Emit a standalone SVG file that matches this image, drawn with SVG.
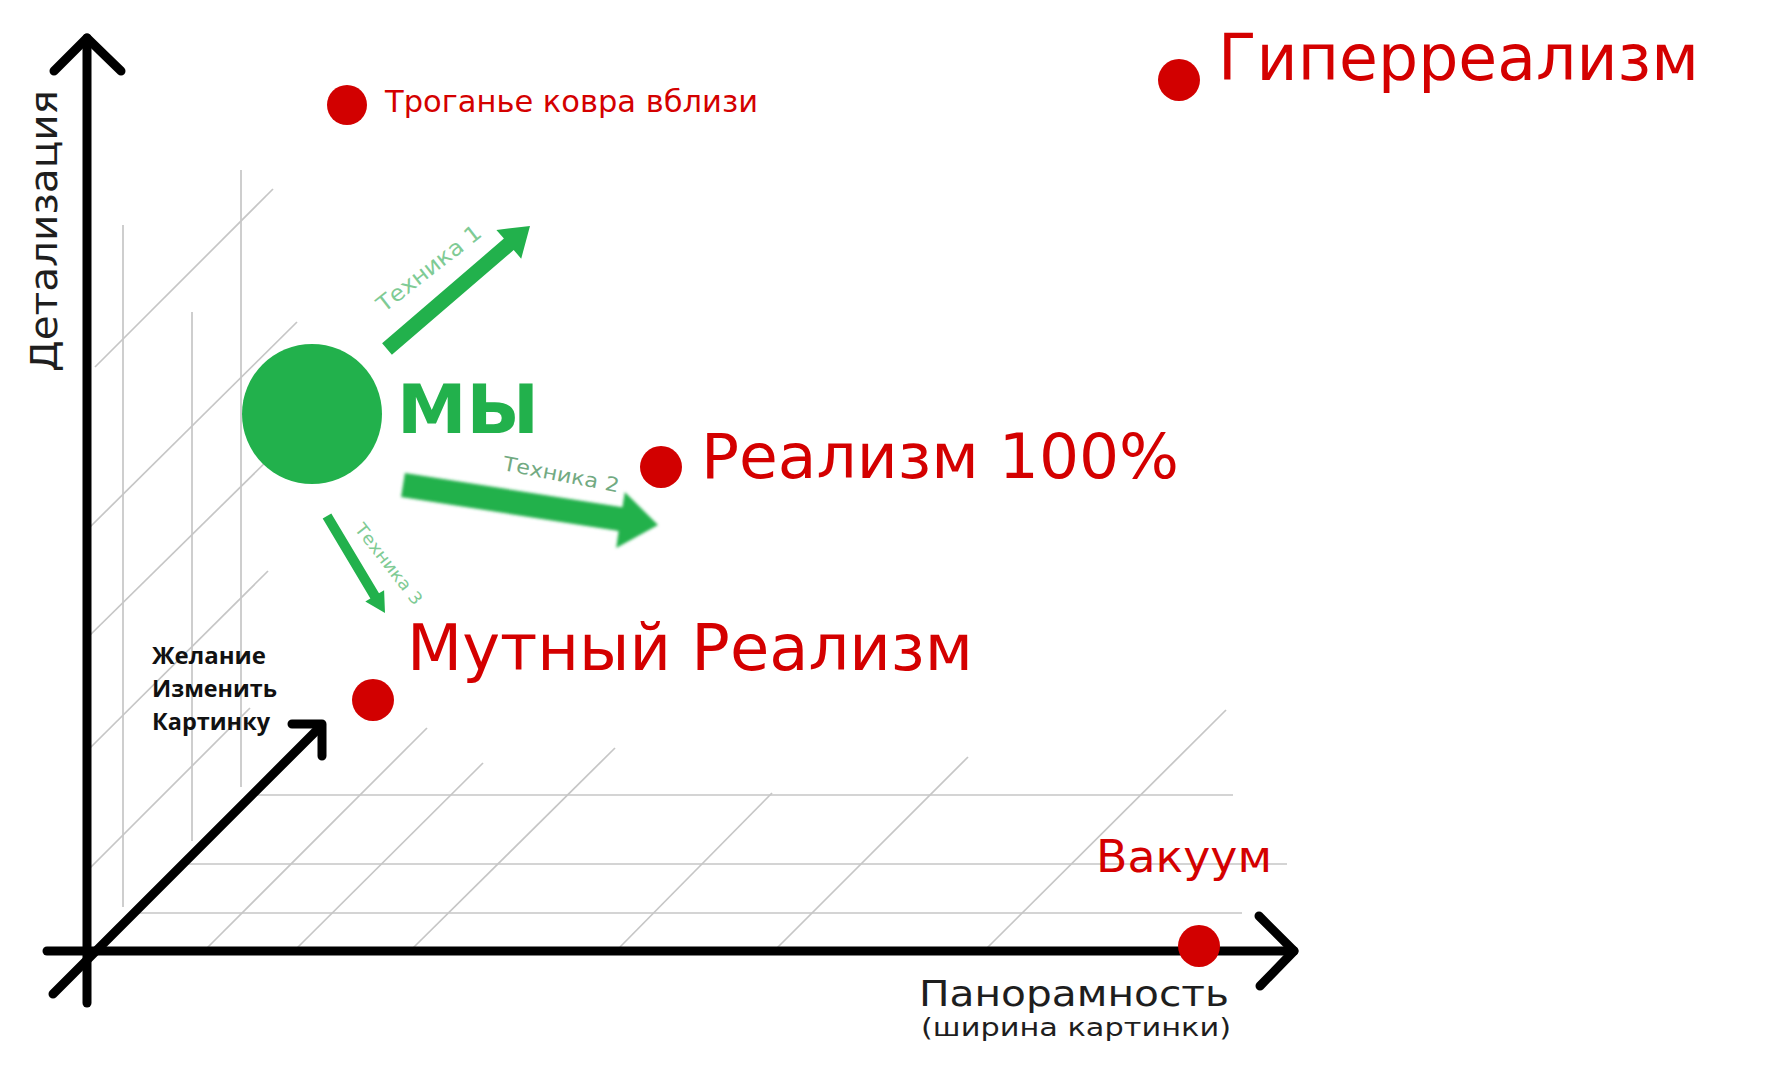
<svg xmlns="http://www.w3.org/2000/svg" width="1769" height="1076" viewBox="0 0 1769 1076">
  <defs>
    <style>
      .grid line { stroke: #c6c6c6; stroke-width: 1.7; fill: none; }
      .axis { stroke: #000; stroke-width: 9; fill: none; stroke-linecap: round; stroke-linejoin: round; }
      .dot { fill: #d20000; }
      .red { fill: #d40000; font-family: "DejaVu Sans", "Liberation Sans", sans-serif; }
      .dark { fill: #1e1e1e; font-family: "DejaVu Sans", "Liberation Sans", sans-serif; }
      .tech { font-family: "DejaVu Sans", "Liberation Sans", sans-serif; }
      .garrow { fill: #22b14c; }
    </style>
    <filter id="blur" x="-10%" y="-30%" width="120%" height="160%">
      <feGaussianBlur stdDeviation="1.6"/>
    </filter>
  </defs>

  <rect x="0" y="0" width="1769" height="1076" fill="#ffffff"/>

  <!-- perspective grid -->
  <g id="grid" class="grid">
    <!-- back wall verticals -->
    <line x1="123" y1="225" x2="123" y2="907"/>
    <line x1="192" y1="312" x2="192" y2="841"/>
    <line x1="241" y1="170" x2="241" y2="787"/>
    <!-- wall diagonals -->
    <line x1="95" y1="367" x2="273" y2="189"/>
    <line x1="90" y1="527" x2="297" y2="322"/>
    <line x1="85" y1="640" x2="276" y2="452"/>
    <line x1="90" y1="748" x2="268" y2="571"/>
    <line x1="85" y1="873" x2="250" y2="708"/>
    <!-- floor horizontals -->
    <line x1="257" y1="795" x2="1233" y2="795"/>
    <line x1="185" y1="864" x2="1287" y2="864"/>
    <line x1="138" y1="913" x2="1242" y2="913"/>
    <!-- floor diagonals -->
    <line x1="207" y1="948" x2="427" y2="728"/>
    <line x1="295" y1="950" x2="483" y2="763"/>
    <line x1="413" y1="948" x2="615" y2="748"/>
    <line x1="620" y1="947" x2="772" y2="793"/>
    <line x1="777" y1="948" x2="968" y2="757"/>
    <line x1="987" y1="948" x2="1226" y2="710"/>
  </g>

  <!-- axes and connectors -->
  <g id="connectors">
    <g id="axis-detail">
      <line class="axis" x1="87" y1="1003" x2="87" y2="38"/>
      <polyline class="axis" points="54,71 87,38 121,71"/>
    </g>
    <g id="axis-panorama">
      <line class="axis" x1="47" y1="951" x2="1294" y2="951"/>
      <polyline class="axis" points="1259,916 1294,951 1260,986"/>
    </g>
    <g id="axis-desire">
      <line class="axis" x1="53" y1="994" x2="321" y2="726"/>
      <polyline class="axis" points="292,724 322,724 322,756"/>
    </g>
    <g id="arrow-tech1">
      <polygon class="garrow" points="391.9,354.7 382.1,343.3 503.9,238.6 496.4,229.9 530,226 521.2,258.7 513.7,250"/>
      <text class="tech" x="384" y="313" font-size="22" fill="#7fcb95" transform="rotate(-38 384 313)" textLength="126" lengthAdjust="spacingAndGlyphs">Техника 1</text>
    </g>
    <g id="arrow-tech2">
      <polygon class="garrow" filter="url(#blur)" points="404.9,473.1 401.1,496.9 618.6,531 616.2,548 658,525 624.8,492 622.4,507.2"/>
      <text class="tech" x="502" y="470" font-size="20" fill="#72aa82" transform="rotate(11 502 470)" textLength="118" lengthAdjust="spacingAndGlyphs">Техника 2</text>
    </g>
    <g id="arrow-tech3">
      <polygon class="garrow" points="331.3,513.4 322.7,518.6 370.4,598.4 365.3,601.4 385,613 384.1,590.2 379,593.2"/>
      <text class="tech" x="354" y="529" font-size="17" fill="#7fcb95" transform="rotate(52 354 529)" textLength="98" lengthAdjust="spacingAndGlyphs">Техника 3</text>
    </g>
  </g>

  <!-- axis labels -->
  <g id="label-detail">
    <text class="dark" x="57" y="372" font-size="38" fill="#333" transform="rotate(-90 57 372)" textLength="282" lengthAdjust="spacingAndGlyphs">Детализация</text>
  </g>
  <g id="label-panorama">
    <text class="dark" x="919" y="1006" font-size="36" textLength="310" lengthAdjust="spacingAndGlyphs">Панорамность</text>
    <text class="dark" x="921" y="1036" font-size="24" textLength="310" lengthAdjust="spacingAndGlyphs">(ширина картинки)</text>
  </g>
  <g id="label-desire">
    <text x="152" y="664" font-family="'Open Sans', 'DejaVu Sans', sans-serif" font-weight="bold" font-size="23" fill="#111" textLength="114" lengthAdjust="spacingAndGlyphs">Желание</text>
    <text x="152" y="697" font-family="'Open Sans', 'DejaVu Sans', sans-serif" font-weight="bold" font-size="23" fill="#111" textLength="125" lengthAdjust="spacingAndGlyphs">Изменить</text>
    <text x="152" y="730" font-family="'Open Sans', 'DejaVu Sans', sans-serif" font-weight="bold" font-size="23" fill="#111" textLength="118" lengthAdjust="spacingAndGlyphs">Картинку</text>
  </g>

  <!-- nodes -->
  <g id="node-we">
    <circle cx="312" cy="414" r="70" fill="#22b14c"/>
    <text x="397" y="433" font-family="'DejaVu Sans', 'Liberation Sans', sans-serif" font-weight="bold" font-size="68" fill="#22b14c" textLength="142" lengthAdjust="spacingAndGlyphs">МЫ</text>
  </g>
  <g id="node-touch">
    <circle class="dot" cx="347" cy="105" r="20"/>
    <text class="red" x="385" y="112" font-size="31" textLength="373" lengthAdjust="spacingAndGlyphs">Троганье ковра вблизи</text>
  </g>
  <g id="node-hyper">
    <circle class="dot" cx="1179" cy="80" r="21"/>
    <text class="red" x="1218" y="80" font-size="64" textLength="481" lengthAdjust="spacingAndGlyphs">Гиперреализм</text>
  </g>
  <g id="node-realism100">
    <circle class="dot" cx="661" cy="467" r="21"/>
    <text class="red" x="701" y="478" font-size="63" textLength="478" lengthAdjust="spacingAndGlyphs">Реализм 100%</text>
  </g>
  <g id="node-muddy">
    <circle class="dot" cx="373" cy="700" r="21"/>
    <text class="red" x="407" y="670" font-size="64" textLength="566" lengthAdjust="spacingAndGlyphs">Мутный Реализм</text>
  </g>
  <g id="node-vacuum">
    <circle class="dot" cx="1199" cy="946" r="21"/>
    <text class="red" x="1096" y="872" font-size="45" textLength="176" lengthAdjust="spacingAndGlyphs">Вакуум</text>
  </g>
</svg>
